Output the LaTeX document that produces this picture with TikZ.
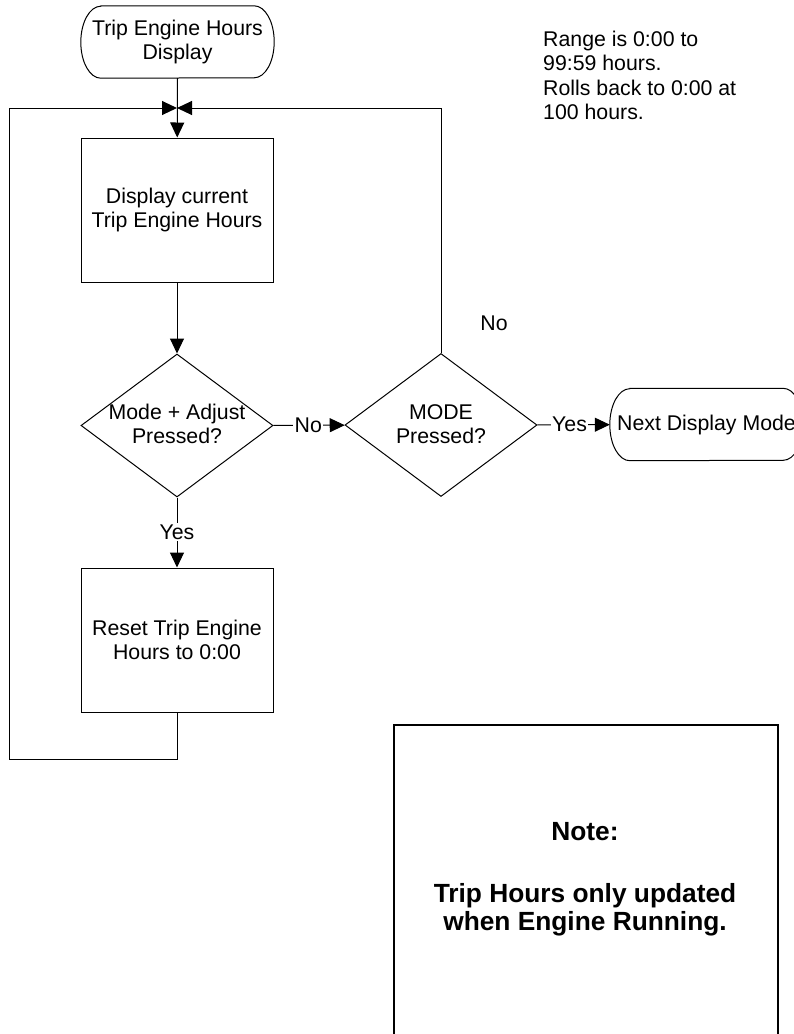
\documentclass[tikz,border=0pt]{standalone}
\usepackage{fontspec}
\setmainfont{Liberation Sans}
\usetikzlibrary{shapes.geometric,arrows.meta}

\tikzset{
  lbl/.style={font=\fontsize{21.3}{24.5}\selectfont, inner sep=0pt, align=center},
  flow/.style={draw=black, line width=1pt},
  arr/.style={flow, -{Triangle[length=15pt,width=14pt]}},
  procbox/.style={lbl, draw, line width=1pt, minimum width=192, minimum height=144},
  decbox/.style={diamond, draw, line width=1pt, minimum width=192, minimum height=143, inner sep=0pt},
  termbox/.style={lbl, minimum width=193, minimum height=72},
  tag/.style={lbl, fill=white, inner sep=1.5pt},
  notetext/.style={font=\fontsize{26.3}{28}\selectfont\bfseries, align=center, inner sep=0pt},
}

% terminator outline: flat top and bottom, elliptical ends
\newcommand\drawterminal[1]{%
  \draw[line width=1pt] ([xshift=20pt]#1.north west) -- ([xshift=-20pt]#1.north east)
    arc[start angle=90, end angle=-90, x radius=20pt, y radius=36pt]
    -- ([xshift=20pt]#1.south west)
    arc[start angle=270, end angle=90, x radius=20pt, y radius=36pt] -- cycle;}

\begin{document}
\begin{tikzpicture}[x=1pt, y=-1pt]
\useasboundingbox (0,0) rectangle (794,1034);
\clip (0,0) rectangle (794,1034);

% nodes
\node[termbox] (start) at (177.5,42) {Trip Engine Hours\\Display};
\drawterminal{start}
\coordinate (j) at (177,108);

\node[procbox] (show) at (177,210) {Display current\\Trip Engine Hours};
\node[decbox] (both) at (177,425.5) {};
\node[lbl] (bothtext) at (177,424) {Mode + Adjust\\Pressed?};
\node[decbox] (mode) at (441,425) {};
\node[lbl] (modetext) at (441,424) {MODE\\Pressed?};
\node[termbox] (next) at (706.5,424.5) {Next Display Mode};
\drawterminal{next}
\node[procbox] (reset) at (177,640) {Reset Trip Engine\\Hours to 0:00};
\coordinate (lb) at (9,759);

% side notes
\node[lbl, align=left, anchor=west] (range) at (543,75.5)
  {Range is 0:00 to\\99:59 hours.\\Rolls back to 0:00 at\\100 hours.};
\node[lbl] (nolbl) at (494,323) {No};

\node[draw, line width=2pt, minimum width=384, minimum height=340, inner sep=0pt,
      anchor=north west] (note) at (393,724) {};
\node[notetext] (notehead) at (585,832) {Note:};
\node[notetext] (notebody) at (585,910) {Trip Hours only updated\\when Engine Running.};

% connectors
\draw[arr] (start) -- (show);
\draw[arr] (show) -- (both);
\draw[arr] (both) -- node[tag, pos=0.49] (nolink) {No} (mode);
\draw[arr] (mode) -- node[tag, pos=0.445] (yeslink) {Yes} (next);
\draw[arr] (both) -- node[tag, pos=0.49] (yesdown) {Yes} (reset);
\draw[arr] (reset.south) |- (lb) |- (j);
\draw[arr] (mode.north) |- (j);
\end{tikzpicture}
\end{document}
